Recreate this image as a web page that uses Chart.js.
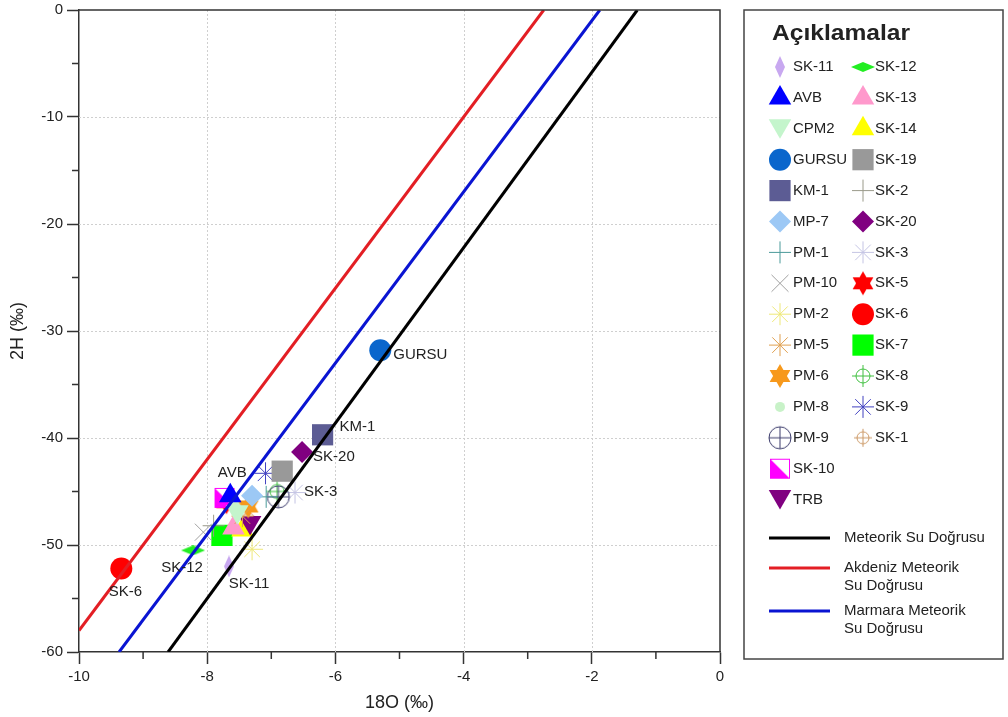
<!DOCTYPE html>
<html>
<head>
<meta charset="utf-8">
<script src="https://cdn.jsdelivr.net/npm/chart.js@4.4.1/dist/chart.umd.min.js"></script>
<style>
  html, body { margin: 0; padding: 0; background: #fff; }
  #wrap { width: 1008px; height: 717px; }
</style>
</head>
<body>
<div id="wrap"><canvas id="chart" width="1008" height="717"></canvas></div>
<script>
// samples, in legend order (column 1 then column 2)
const names = ['SK-11', 'AVB', 'CPM2', 'GURSU', 'KM-1', 'MP-7', 'PM-1', 'PM-10', 'PM-2', 'PM-5', 'PM-6', 'PM-8', 'PM-9', 'SK-10', 'TRB',
  'SK-12', 'SK-13', 'SK-14', 'SK-19', 'SK-2', 'SK-20', 'SK-3', 'SK-5', 'SK-6', 'SK-7', 'SK-8', 'SK-9', 'SK-1']
const o18 = [-7.66, -7.64, -7.53, -5.30, -6.20, -7.30, -7.08, -8.06, -7.30, -7.45, -7.36, -7.55, -6.89, -7.73, -7.33,
  -8.22, -7.59, -7.45, -6.83, -7.90, -6.52, -6.63, -7.70, -9.34, -7.77, -6.91, -7.09, -7.35]
const h2 = [-52.0, -45.4, -46.9, -31.8, -39.7, -45.4, -45.5, -48.8, -50.4, -47.3, -46.4, -46.3, -45.5, -45.6, -47.9,
  -50.5, -48.4, -48.6, -43.1, -48.2, -41.3, -45.1, -46.0, -52.2, -49.1, -45.0, -43.3, -47.6]
const col1Count = 15

// water lines, end points
const lineLabels = ['Meteorik Su Doğrusu', 'Akdeniz Meteorik\nSu Doğrusu', 'Marmara Meteorik\nSu Doğrusu']
const meteorikX = [-8.61, -1.29]
const meteorikY = [-60, 0]
const akdenizX = [-10, -2.75]
const akdenizY = [-58, 0]
const marmaraX = [-9.375, -1.875]
const marmaraY = [-60, 0]

const xMin = -10, xMax = 0, xStep = 2
const yMin = -60, yMax = 0, yStep = 10

const FONT = "'Liberation Sans', Arial, sans-serif"
Chart.defaults.font.family = FONT

// ---- custom marker canvases
function mk(w, h, draw) {
  const c = document.createElement('canvas')
  c.width = w
  c.height = h
  draw(c.getContext('2d'), w, h)
  return c
}
function vDiamond(color) {
  return mk(12, 22, g => {
    g.fillStyle = color
    g.beginPath(); g.moveTo(6, 0); g.lineTo(11, 11); g.lineTo(6, 22); g.lineTo(1, 11); g.closePath(); g.fill()
  })
}
function hDiamond(color) {
  return mk(24, 10, g => {
    g.fillStyle = color
    g.beginPath(); g.moveTo(0, 5); g.lineTo(12, 0); g.lineTo(24, 5); g.lineTo(12, 10); g.closePath(); g.fill()
  })
}
function star6(color, r) {
  const s = 2 * r + 2
  return mk(s, s, g => {
    g.fillStyle = color
    const c = s / 2
    for (let k = 0; k < 2; k++) {
      g.beginPath()
      for (let j = 0; j < 3; j++) {
        const a = (-90 + k * 60 + j * 120) * Math.PI / 180
        const px = c + r * Math.cos(a), py = c + r * Math.sin(a)
        if (j === 0) g.moveTo(px, py); else g.lineTo(px, py)
      }
      g.closePath()
      g.fill()
    }
  })
}
function circlePlus(color, r, arm) {
  const s = 2 * Math.max(r, arm) + 4
  return mk(s, s, g => {
    const c = s / 2
    g.strokeStyle = color
    g.lineWidth = 1
    g.beginPath(); g.arc(c, c, r, 0, Math.PI * 2); g.stroke()
    g.beginPath(); g.moveTo(c - arm, c); g.lineTo(c + arm, c); g.moveTo(c, c - arm); g.lineTo(c, c + arm); g.stroke()
  })
}
function halfSquare(color) {
  return mk(22, 22, g => {
    g.fillStyle = '#fff'
    g.fillRect(1, 1, 20, 20)
    g.fillStyle = color
    g.beginPath(); g.moveTo(1, 1); g.lineTo(1, 21); g.lineTo(21, 21); g.closePath(); g.fill()
    g.strokeStyle = color
    g.lineWidth = 1
    g.strokeRect(1.5, 1.5, 19, 19)
  })
}

const styles = {
  'SK-11': { style: vDiamond('#c8a8f0') },
  'AVB': { style: 'triangle', bg: '#0000ff', r: 13 },
  'CPM2': { style: 'triangle', rot: 180, bg: '#c4f5cc', r: 13 },
  'GURSU': { style: 'circle', bg: '#0a66cc', r: 11 },
  'KM-1': { style: 'rect', bg: '#5c5c94', r: 15 },
  'MP-7': { style: 'rectRot', bg: '#9cc8f5', r: 11 },
  'PM-1': { style: 'cross', line: '#4a9a9a', r: 11 },
  'PM-10': { style: 'crossRot', line: '#a0a0a0', r: 12 },
  'PM-2': { style: 'star', line: '#eee878', r: 11 },
  'PM-5': { style: 'star', line: '#e0a050', r: 11 },
  'PM-6': { style: star6('#f7991c', 12) },
  'PM-8': { style: 'circle', bg: '#c8f2c8', r: 5 },
  'PM-9': { style: circlePlus('#3c3c6c', 11, 11) },
  'SK-10': { style: halfSquare('#ff00ff') },
  'TRB': { style: 'triangle', rot: 180, bg: '#800080', r: 13 },
  'SK-12': { style: hDiamond('#22ee22') },
  'SK-13': { style: 'triangle', bg: '#ff99cc', r: 13 },
  'SK-14': { style: 'triangle', bg: '#ffff00', r: 13 },
  'SK-19': { style: 'rect', bg: '#999999', r: 15 },
  'SK-2': { style: 'cross', line: '#9a9a8a', r: 11 },
  'SK-20': { style: 'rectRot', bg: '#800080', r: 11 },
  'SK-3': { style: 'star', line: '#c4c4e4', r: 11 },
  'SK-5': { style: star6('#ff0000', 12) },
  'SK-6': { style: 'circle', bg: '#ff0000', r: 11 },
  'SK-7': { style: 'rect', bg: '#00ff00', r: 15 },
  'SK-8': { style: circlePlus('#40c040', 7, 11) },
  'SK-9': { style: 'star', line: '#4040c0', r: 11 },
  'SK-1': { style: circlePlus('#cc9966', 6, 9) }
}

// labels written next to some points: offset of text from point
const pointLabels = {
  'GURSU': { dx: 13, dy: 5, align: 'left' },
  'KM-1': { dx: 17, dy: -8, align: 'left' },
  'SK-20': { dx: 11, dy: 5, align: 'left' },
  'SK-3': { dx: 9, dy: -1, align: 'left' },
  'AVB': { dx: 2, dy: -23, align: 'center' },
  'SK-12': { dx: -11, dy: 18, align: 'center' },
  'SK-11': { dx: 20, dy: 17, align: 'center' },
  'SK-6': { dx: 4, dy: 23, align: 'center' }
}

const lineColors = ['#000000', '#e31e24', '#0a14d2']

function pairs(xs, ys) {
  return xs.map((x, i) => ({ x: x, y: ys[i] }))
}

const lineSets = [
  { label: lineLabels[0], data: pairs(meteorikX, meteorikY), borderColor: lineColors[0] },
  { label: lineLabels[1], data: pairs(akdenizX, akdenizY), borderColor: lineColors[1] },
  { label: lineLabels[2], data: pairs(marmaraX, marmaraY), borderColor: lineColors[2] }
].map(d => Object.assign(d, { showLine: true, borderWidth: 3, pointRadius: 0, fill: false }))

const pointSets = names.map((n, i) => {
  const s = styles[n]
  return {
    label: n,
    data: [{ x: o18[i], y: h2[i] }],
    showLine: false,
    pointStyle: s.style,
    pointRadius: s.r || 10,
    pointHoverRadius: s.r || 10,
    pointRotation: s.rot || 0,
    pointBackgroundColor: s.bg || 'rgba(0,0,0,0)',
    pointBorderColor: s.line || s.bg || 'rgba(0,0,0,0)',
    pointBorderWidth: s.line ? 1 : 0
  }
})

// dotted grid, minor ticks, top/right frame
const framePlugin = {
  id: 'frame',
  beforeDatasetsDraw(chart) {
    const { ctx, chartArea: a, scales: { x, y } } = chart
    ctx.save()
    ctx.strokeStyle = '#cfcfcf'
    ctx.lineWidth = 1
    ctx.setLineDash([2, 2])
    for (let v = xMin + xStep; v < xMax; v += xStep) {
      const px = Math.round(x.getPixelForValue(v)) + 0.5
      ctx.beginPath(); ctx.moveTo(px, a.top); ctx.lineTo(px, a.bottom); ctx.stroke()
    }
    for (let v = yMin + yStep; v < yMax; v += yStep) {
      const py = Math.round(y.getPixelForValue(v)) + 0.5
      ctx.beginPath(); ctx.moveTo(a.left, py); ctx.lineTo(a.right, py); ctx.stroke()
    }
    ctx.restore()
  },
  afterDraw(chart) {
    const { ctx, chartArea: a, scales: { x, y } } = chart
    ctx.save()
    ctx.strokeStyle = '#333'
    ctx.lineWidth = 1.5
    ctx.beginPath()
    ctx.moveTo(a.left, a.top); ctx.lineTo(a.right, a.top); ctx.lineTo(a.right, a.bottom)
    ctx.stroke()
    ctx.beginPath()
    for (let v = xMin + xStep / 2; v < xMax; v += xStep) {
      const px = x.getPixelForValue(v)
      ctx.moveTo(px, a.bottom); ctx.lineTo(px, a.bottom + 7)
    }
    for (let v = yMin + yStep / 2; v < yMax; v += yStep) {
      const py = y.getPixelForValue(v)
      ctx.moveTo(a.left, py); ctx.lineTo(a.left - 7, py)
    }
    ctx.stroke()
    ctx.restore()
  }
}

const labelPlugin = {
  id: 'pointLabels',
  afterDatasetsDraw(chart) {
    const ctx = chart.ctx
    ctx.save()
    ctx.font = '15px ' + FONT
    ctx.fillStyle = '#222'
    ctx.textBaseline = 'middle'
    chart.data.datasets.forEach((ds, i) => {
      const lab = pointLabels[ds.label]
      if (!lab) return
      const el = chart.getDatasetMeta(i).data[0]
      ctx.textAlign = lab.align
      ctx.fillText(ds.label, el.x + lab.dx, el.y + lab.dy)
    })
    ctx.restore()
  }
}

function drawMarker(ctx, s, cx, cy) {
  ctx.save()
  ctx.fillStyle = s.bg || 'rgba(0,0,0,0)'
  ctx.strokeStyle = s.line || s.bg || 'rgba(0,0,0,0)'
  ctx.lineWidth = s.line ? 1 : 0
  Chart.helpers.drawPoint(ctx, { pointStyle: s.style, rotation: s.rot || 0, radius: s.r || 10, borderWidth: s.line ? 1 : 0 }, cx, cy)
  ctx.restore()
}

const legendPlugin = {
  id: 'sideLegend',
  afterDraw(chart) {
    const ctx = chart.ctx
    ctx.save()
    ctx.strokeStyle = '#444'
    ctx.lineWidth = 1.5
    ctx.strokeRect(744, 10, 259, 649)

    // title, stretched to the width seen in the reference
    ctx.font = 'bold 22px ' + FONT
    ctx.fillStyle = '#222'
    ctx.textBaseline = 'alphabetic'
    ctx.textAlign = 'left'
    const tw = ctx.measureText('Açıklamalar').width
    ctx.translate(772, 40)
    ctx.scale(138 / tw, 1)
    ctx.fillText('Açıklamalar', 0, 0)
    ctx.restore()

    ctx.save()
    ctx.font = '15px ' + FONT
    ctx.textBaseline = 'middle'
    ctx.textAlign = 'left'
    const rowStep = 30.9
    names.forEach((n, i) => {
      const col = i < col1Count ? 0 : 1
      const row = col ? i - col1Count : i
      const mx = col ? 863 : 780
      const tx = col ? 875 : 793
      const yy = 67 + row * rowStep
      const s = styles[n]
      drawMarker(ctx, s, mx, s.rot ? yy - 3 : yy)
      ctx.fillStyle = '#222'
      ctx.fillText(n, tx, yy)
    })

    const lineY = [538, 568, 611]
    lineLabels.forEach((t, i) => {
      ctx.strokeStyle = lineColors[i]
      ctx.lineWidth = 3
      ctx.beginPath(); ctx.moveTo(769, lineY[i]); ctx.lineTo(830, lineY[i]); ctx.stroke()
      ctx.fillStyle = '#222'
      t.split('\n').forEach((part, k) => ctx.fillText(part, 844, lineY[i] + k * 17.5))
    })
    ctx.restore()
  }
}

const ctx = document.getElementById('chart').getContext('2d')
const chart = new Chart(ctx, {
  type: 'scatter',
  data: { datasets: lineSets.concat(pointSets) },
  options: {
    responsive: false,
    animation: false,
    layout: { autoPadding: false, padding: { left: 0, right: 288, top: 10, bottom: 0 } },
    plugins: { legend: { display: false }, tooltip: { enabled: false } },
    scales: {
      x: {
        type: 'linear',
        min: xMin,
        max: xMax,
        ticks: { stepSize: xStep, color: '#222', font: { size: 15 }, padding: 4 },
        grid: { drawOnChartArea: false, tickLength: 12, tickColor: '#333', tickWidth: 1.5 },
        border: { color: '#333', width: 1.5 },
        title: { display: true, text: '18O (‰)', color: '#222', font: { size: 18 }, padding: { top: 0, bottom: 3 } },
        afterFit(s) { s.height = 65; s.paddingLeft = 0; s.paddingRight = 0 }
      },
      y: {
        type: 'linear',
        min: yMin,
        max: yMax,
        ticks: { stepSize: yStep, color: '#222', font: { size: 15 }, padding: 4 },
        grid: { drawOnChartArea: false, tickLength: 12, tickColor: '#333', tickWidth: 1.5 },
        border: { color: '#333', width: 1.5 },
        title: { display: true, text: '2H (‰)', color: '#222', font: { size: 18 }, padding: { top: 7, bottom: 0 } },
        afterFit(s) { s.width = 79; s.paddingTop = 0; s.paddingBottom = 0 }
      }
    }
  },
  plugins: [framePlugin, labelPlugin, legendPlugin]
})
</script>
</body>
</html>
